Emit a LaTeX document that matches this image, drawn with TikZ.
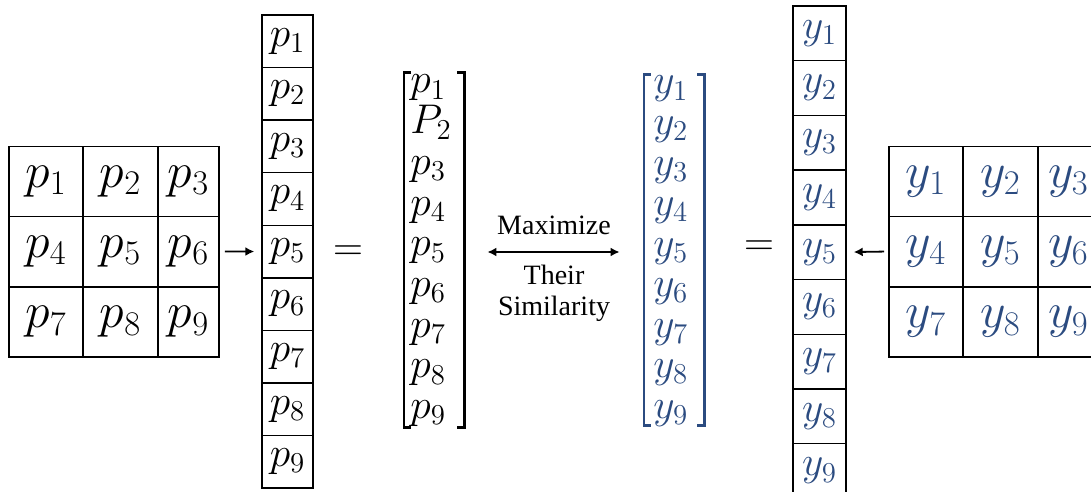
\documentclass[tikz,border=0pt]{standalone}
\usepackage[no-math]{fontspec}
\setmainfont{Liberation Serif}
\usetikzlibrary{arrows.meta,fit,calc}
\definecolor{ink}{HTML}{000000}
\definecolor{yblue}{HTML}{2B4B80}
\tikzset{
  gcell/.style={draw, line width=0.8pt, minimum height=35pt, inner sep=0pt, font=\fontsize{24}{24}\selectfont},
  ccell/.style={draw, line width=0.7pt, inner sep=0pt, font=\fontsize{20}{20}\selectfont},
  entry/.style={inner sep=0pt, anchor=base west, font=\fontsize{20}{20}\selectfont},
  bracket/.style={line width=1.1pt},
  conv/.style={-{Latex[length=4.5pt,width=4.5pt]}, line width=0.9pt},
  eqsign/.style={font=\fontsize{21}{21}\selectfont, inner sep=0pt},
  lbl/.style={font=\fontsize{14}{15.5}\selectfont, align=center},
}
\begin{document}
\begin{tikzpicture}[x=0.5pt, y=-0.5pt]
  \clip (0,0) rectangle (1091,492);

  % 3x3 patch of p's and its column
  \foreach \c/\x/\w in {1/46/37pt,2/120.5/37.5pt,3/188.5/30.5pt}
    \foreach \r/\y in {0/181.5,1/251.5,2/322}
    { \pgfmathtruncatemacro\k{3*\r+\c}
      \node[gcell, minimum width=\w] (gp\k) at (\x,\y) {$p_{\k}$}; }
  \foreach \i in {1,...,9}
    \node[ccell, minimum width=25.5pt, minimum height=26.28pt] (cp\i) at (287.5,{15+52.56*(\i-0.5)}) {$p_{\i}$};
  \draw[conv, shorten <=2.5pt, shorten >=3.5pt] (gp6.east) -- (cp5.west);
  \node[eqsign] (eqL) at (348,253) {$=$};

  % vector of p's (the second entry is printed as a capital P)
  \foreach \i/\t in {1/p,2/P,3/p,4/p,5/p,6/p,7/p,8/p,9/p}
    \node[entry] (vp\i) at (410,{93+40.7*(\i-1)}) {$\t_{\i}$};
  \node[fit={(404,73) (464,427)}, inner sep=0pt] (vpbox) {};
  \draw[bracket] ([xshift=3.5pt]vpbox.north west) -- (vpbox.north west) -- (vpbox.south west) -- ([xshift=3.5pt]vpbox.south west);
  \draw[bracket] ([xshift=-3.5pt]vpbox.north east) -- (vpbox.north east) -- (vpbox.south east) -- ([xshift=-3.5pt]vpbox.south east);

  % vector of y's
  \foreach \i in {1,...,9}
    \node[entry, text=yblue] (vy\i) at (653,{94+40.5*(\i-1)}) {$y_{\i}$};
  \node[fit={(644,75) (704,425)}, inner sep=0pt] (vybox) {};
  \draw[bracket, yblue] ([xshift=3.5pt]vybox.north west) -- (vybox.north west) -- (vybox.south west) -- ([xshift=3.5pt]vybox.south west);
  \draw[bracket, yblue] ([xshift=-3.5pt]vybox.north east) -- (vybox.north east) -- (vybox.south east) -- ([xshift=-3.5pt]vybox.south east);

  \draw[{Latex[length=4.5pt,width=4.5pt]}-{Latex[length=4.5pt,width=4.5pt]}, line width=0.9pt, shorten <=11.5pt, shorten >=12pt]
    ([yshift=-1pt]vpbox.east) -- node[lbl, above=5pt] (maxi) {Maximize} node[lbl, below=3pt] (simi) {Their\\Similarity} ([yshift=-1pt]vybox.west);

  % column and 3x3 patch of y's
  \node[eqsign] (eqR) at (759,248) {$=$};
  \foreach \i in {1,...,9}
    \node[ccell, text=yblue, minimum width=26.5pt, minimum height=27.35pt] (cy\i) at (819.5,{6+54.7*(\i-0.5)}) {$y_{\i}$};
  \foreach \c/\x/\w in {1/926/37pt,2/1000.5/37.5pt,3/1068.5/30.5pt}
    \foreach \r/\y in {0/181.5,1/251.5,2/322}
    { \pgfmathtruncatemacro\k{3*\r+\c}
      \node[gcell, text=yblue, minimum width=\w] (gy\k) at (\x,\y) {$y_{\k}$}; }
  \draw[conv, shorten <=2pt, shorten >=3.5pt] (gy4.west) -- (cy5.east);
\end{tikzpicture}
\end{document}
